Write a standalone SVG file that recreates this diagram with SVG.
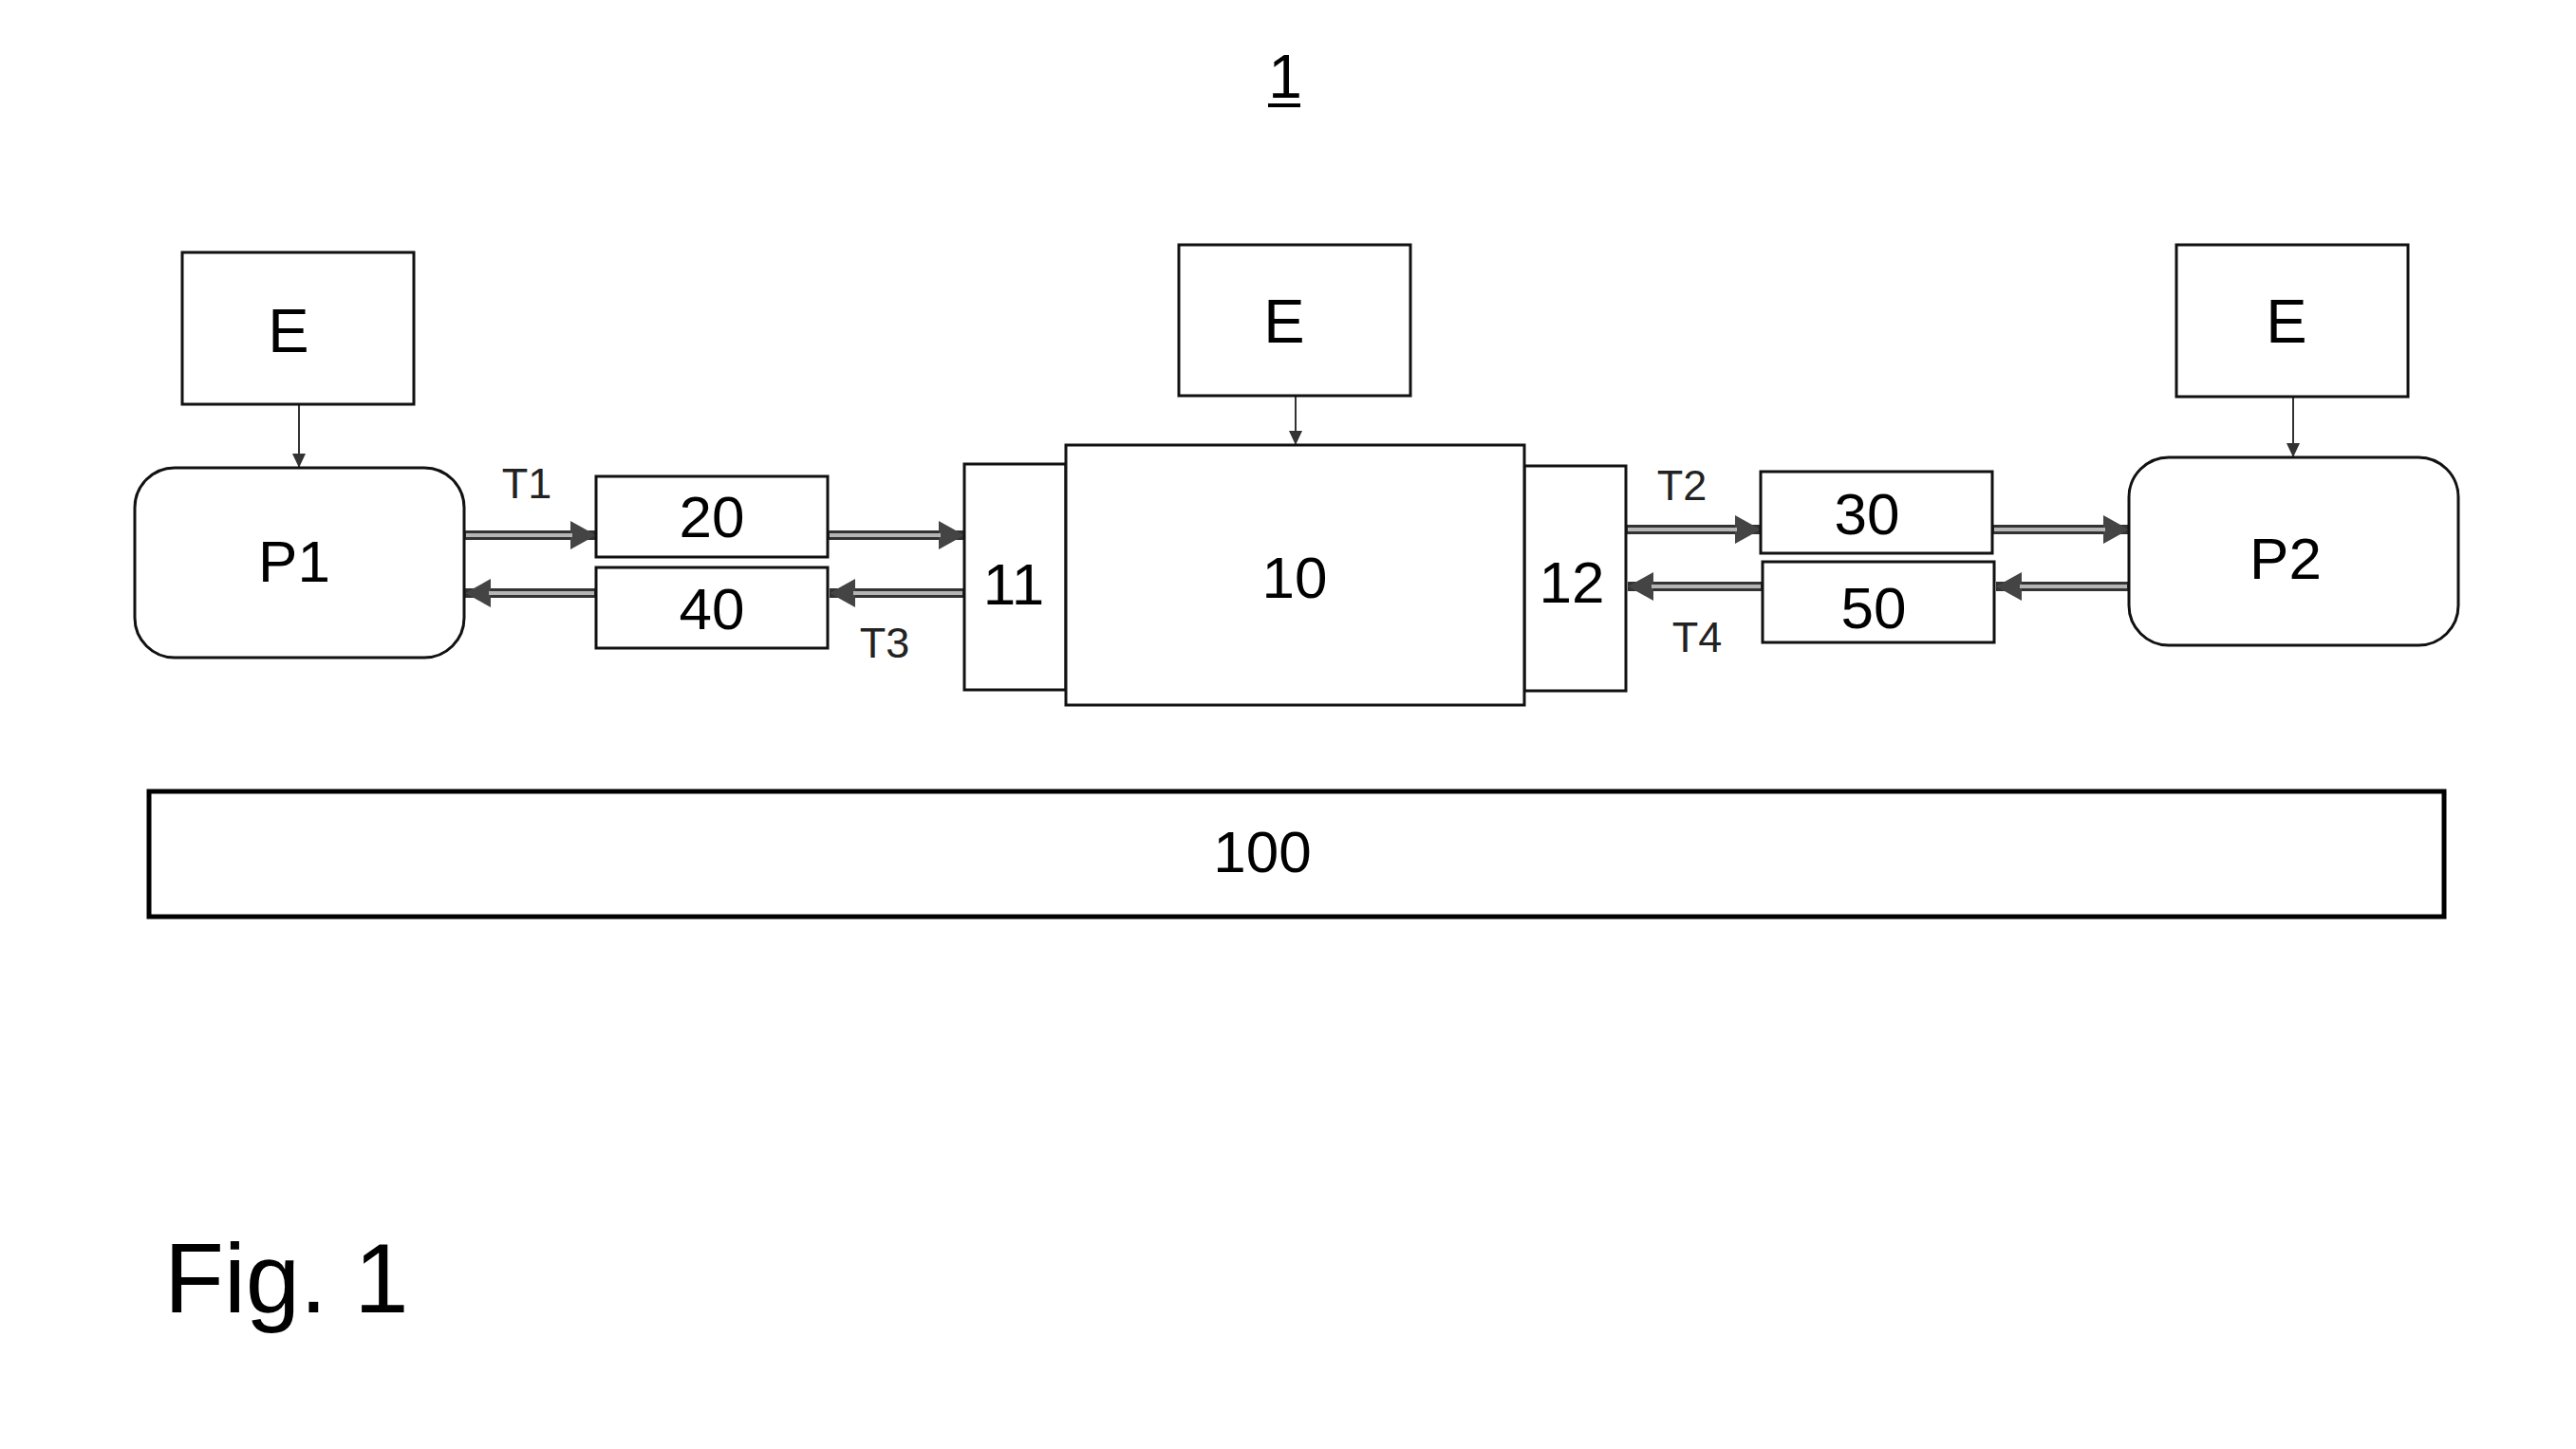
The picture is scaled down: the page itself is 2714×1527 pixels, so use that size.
<svg xmlns="http://www.w3.org/2000/svg" width="2714" height="1527" viewBox="0 0 2714 1527">
<style>
.box{fill:#fff;stroke:#111;stroke-width:3}
.big{fill:#fff;stroke:#000;stroke-width:5}
.t{font-family:"Liberation Sans",Arial,sans-serif;fill:#000;text-anchor:middle}
.n{font-size:62px}
.e{font-size:65px}
.lbl{font-size:45px;fill:#222}
.outer{stroke:#333;stroke-width:10;fill:none}
.inner{stroke:#b5b5b5;stroke-width:4;fill:none}
.thin{stroke:#333;stroke-width:2;fill:none}
</style>
<defs>
<marker id="dh" markerUnits="userSpaceOnUse" markerWidth="28" markerHeight="30" refX="27" refY="15" orient="auto">
<path d="M0,0 L27,15 L0,30 z" fill="#444"/>
</marker>
<marker id="sh" markerUnits="userSpaceOnUse" markerWidth="16" markerHeight="16" refX="15" refY="7" orient="auto">
<path d="M0,0 L15,7 L0,14 z" fill="#333"/>
</marker>
</defs>
<rect width="2714" height="1527" fill="#fff"/>

<g id="title">
<text class="t" x="1354" y="103" style="font-size:64px">1</text>
<line x1="1336" y1="111" x2="1370" y2="111" stroke="#000" stroke-width="4"/>
</g>

<g id="connectors">
<line class="thin" x1="315" y1="426" x2="315" y2="493" marker-end="url(#sh)"/>
<line class="thin" x1="1365" y1="417" x2="1365" y2="469" marker-end="url(#sh)"/>
<line class="thin" x1="2416" y1="418" x2="2416" y2="482" marker-end="url(#sh)"/>

<line class="outer" x1="489" y1="564" x2="628" y2="564" marker-end="url(#dh)"/>
<line class="inner" x1="491" y1="564" x2="603" y2="564"/>
<line class="outer" x1="872" y1="564" x2="1016" y2="564" marker-end="url(#dh)"/>
<line class="inner" x1="874" y1="564" x2="991" y2="564"/>
<line class="outer" x1="1016" y1="625" x2="874" y2="625" marker-end="url(#dh)"/>
<line class="inner" x1="1014" y1="625" x2="899" y2="625"/>
<line class="outer" x1="628" y1="625" x2="490" y2="625" marker-end="url(#dh)"/>
<line class="inner" x1="626" y1="625" x2="515" y2="625"/>

<line class="outer" x1="1713" y1="558" x2="1855" y2="558" marker-end="url(#dh)"/>
<line class="inner" x1="1715" y1="558" x2="1830" y2="558"/>
<line class="outer" x1="2099" y1="558" x2="2243" y2="558" marker-end="url(#dh)"/>
<line class="inner" x1="2101" y1="558" x2="2218" y2="558"/>
<line class="outer" x1="2243" y1="618" x2="2103" y2="618" marker-end="url(#dh)"/>
<line class="inner" x1="2241" y1="618" x2="2128" y2="618"/>
<line class="outer" x1="1857" y1="618" x2="1715" y2="618" marker-end="url(#dh)"/>
<line class="inner" x1="1855" y1="618" x2="1740" y2="618"/>

<text class="t lbl" x="555" y="525">T1</text>
<text class="t lbl" x="1772" y="527">T2</text>
<text class="t lbl" x="932" y="693">T3</text>
<text class="t lbl" x="1788" y="687">T4</text>
</g>

<g id="E1"><rect class="box" x="192" y="266" width="244" height="160"/><text class="t e" x="304" y="371">E</text></g>
<g id="E2"><rect class="box" x="1242" y="258" width="244" height="159"/><text class="t e" x="1353" y="361">E</text></g>
<g id="E3"><rect class="box" x="2293" y="258" width="244" height="160"/><text class="t e" x="2409" y="361">E</text></g>

<g id="P1"><rect class="box" x="142" y="493" width="347" height="200" rx="42" ry="42"/><text class="t n" x="310" y="613">P1</text></g>
<g id="P2"><rect class="box" x="2243" y="482" width="347" height="198" rx="42" ry="42"/><text class="t n" x="2408" y="610">P2</text></g>

<g id="n20"><rect class="box" x="628" y="502" width="244" height="85"/><text class="t n" x="750" y="566">20</text></g>
<g id="n40"><rect class="box" x="628" y="598" width="244" height="85"/><text class="t n" x="750" y="663">40</text></g>
<g id="n30"><rect class="box" x="1855" y="497" width="244" height="86"/><text class="t n" x="1967" y="563">30</text></g>
<g id="n50"><rect class="box" x="1857" y="592" width="244" height="85"/><text class="t n" x="1974" y="662">50</text></g>

<g id="n11"><rect class="box" x="1016" y="489" width="107" height="238"/><text class="t n" x="1068" y="637">11</text></g>
<g id="n12"><rect class="box" x="1606" y="491" width="107" height="237"/><text class="t n" x="1656" y="635">12</text></g>
<g id="n10"><rect class="box" x="1123" y="469" width="483" height="274"/><text class="t n" x="1364" y="630">10</text></g>

<g id="n100"><rect class="big" x="157" y="834" width="2418" height="132"/><text class="t n" x="1330" y="919">100</text></g>

<g id="caption"><text x="173" y="1383" style="font-family:'Liberation Sans',Arial,sans-serif;font-size:103px;fill:#000">Fig. 1</text></g>
</svg>
